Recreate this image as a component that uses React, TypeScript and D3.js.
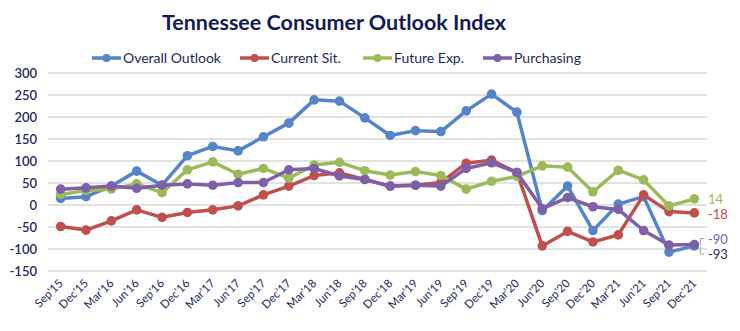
import React from "react";
import * as d3 from "d3";

const quarters = ["Sep'15","Dec'15","Mar'16","Jun'16","Sep'16","Dec'16","Mar'17","Jun'17","Sep'17","Dec'17","Mar'18","Jun'18","Sep'18","Dec'18","Mar'19","Jun'19","Sep'19","Dec'19","Mar'20","Jun'20","Sep'20","Dec'20","Mar'21","Jun'21","Sep'21","Dec'21"];
const overall = [15,19,43,77,45,112,133,123,155,186,239,236,198,158,169,167,214,252,211,-13,43,-58,2,19,-107,-93];
const current = [-49,-57,-36,-11,-28,-17,-11,-2,23,43,67,73,58,43,45,51,95,102,74,-93,-60,-84,-68,23,-15,-18];
const future = [24,33,36,48,28,80,98,70,83,61,91,97,78,68,76,67,36,54,65,89,86,30,79,57,-2,14];
const purchasing = [36,39,43,38,45,48,45,51,51,80,83,66,58,43,45,43,83,96,74,-8,17,-4,-10,-58,-91,-90];
const yTicks = [-150,-100,-50,0,50,100,150,200,250,300];
const seriesNames = ["Overall Outlook","Current Sit.","Future Exp.","Purchasing"];
const colors = ["#5585c8","#c0504d","#9bbb59","#7f5fa8"];

const W = 740, H = 331;
const FONT = "Lato, 'Open Sans', sans-serif";
const NAVY = "#1f2a5c";

export default function App() {
  const series = [overall, current, future, purchasing];
  const x = d3.scalePoint<string>().domain(quarters).range([48, 707]).padding(0.5);
  const y = d3.scaleLinear().domain([-150, 300]).range([271, 73]);
  const line = d3.line<number>().x((_, i) => x(quarters[i]) as number).y(d => y(d));
  const lastX = x(quarters[quarters.length - 1]) as number;
  const legendX = [92, 240, 363, 483];
  const endLabels = [
    { v: overall[25], dy: 254, c: NAVY },
    { v: current[25], dy: 214, c: colors[1] },
    { v: future[25], dy: 199, c: colors[2] },
    { v: purchasing[25], dy: 239, c: colors[3] },
  ];
  return (
    <svg width={W} height={H} style={{ display: "block", position: "absolute", left: 0, top: 0 }} fontFamily={FONT}>
      <rect width={W} height={H} fill="#fff" />
      <text x={334} y={30} textAnchor="middle" fontSize={21.5} fontWeight={700} fill="#141a55">Tennessee Consumer Outlook Index</text>
      {seriesNames.map((n, i) => (
        <g key={n}>
          <line x1={legendX[i]} x2={legendX[i] + 29} y1={58} y2={58} stroke={colors[i]} strokeWidth={3.5} />
          <circle cx={legendX[i] + 14.5} cy={58} r={4} fill={colors[i]} />
          <text x={legendX[i] + 31} y={63} fontSize={14} fill={NAVY}>{n}</text>
        </g>
      ))}
      {yTicks.map(t => (
        <g key={t}>
          <line x1={48} x2={707} y1={y(t)} y2={y(t)} stroke="#d9d9d9" strokeWidth={1.5} />
          <text x={37} y={y(t) + 4.5} textAnchor="end" fontSize={13} fontWeight={600} fill={NAVY}>{t}</text>
        </g>
      ))}
      {quarters.map(q => (
        <text key={q} transform={`translate(${(x(q) as number) + 3},${284}) rotate(-45)`} textAnchor="end" fontSize={11.5} fill={NAVY}>{q}</text>
      ))}
      {series.map((s, i) => (
        <g key={i}>
          <path d={line(s) || ""} fill="none" stroke={colors[i]} strokeWidth={3.5} strokeLinejoin="round" />
          {s.map((v, j) => (
            <circle key={j} cx={x(quarters[j]) as number} cy={y(v)} r={4.8} fill={colors[i]} />
          ))}
        </g>
      ))}
      <path d={`M${lastX + 10},${y(purchasing[25]) - 6} h-4 v7`} fill="none" stroke="#a6a6a6" strokeWidth={1} />
      <path d={`M${lastX + 10},${y(overall[25]) + 8} h-4 v-7`} fill="none" stroke="#a6a6a6" strokeWidth={1} />
      {endLabels.map((l, i) => (
        <text key={i} x={708} y={l.dy + 4.5} fontSize={13} fill={l.c}>{l.v}</text>
      ))}
    </svg>
  );
}
